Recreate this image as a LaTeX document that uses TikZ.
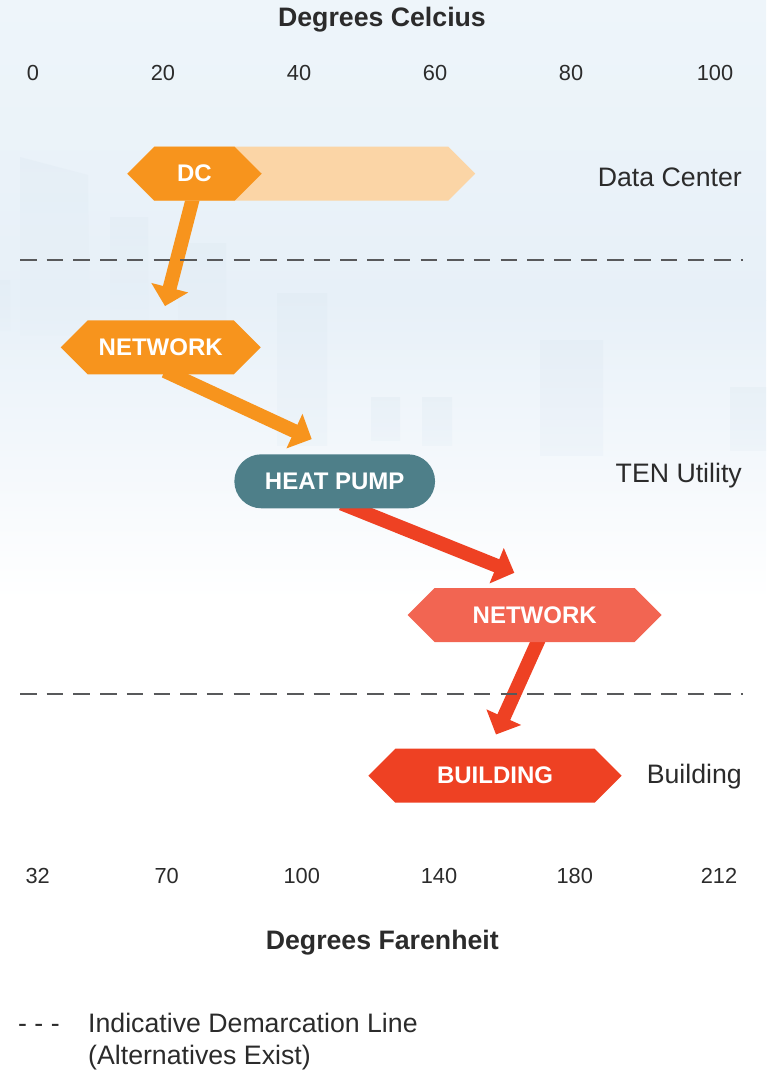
\documentclass[tikz,border=0pt]{standalone}
\usepackage{fontspec}
\setmainfont{Liberation Sans}
\usetikzlibrary{arrows.meta,shapes.symbols,positioning}

\definecolor{dcorange}{HTML}{F7941D}
\definecolor{dclight}{HTML}{FBD5A6}
\definecolor{pumpteal}{HTML}{4E7F89}
\definecolor{netsalmon}{HTML}{F26552}
\definecolor{bldred}{HTML}{EE4123}
\definecolor{linegray}{HTML}{58595B}
\definecolor{textdark}{HTML}{2B2B2B}
\definecolor{skytop}{HTML}{EEF5FA}
\definecolor{skymid}{HTML}{E7F0F8}
\definecolor{skyline}{HTML}{DFEAF2}

\pgfdeclarelayer{backdrop}
\pgfdeclarelayer{flows}
\pgfsetlayers{backdrop,flows,main}

\tikzset{
  hexnode/.style={shape=signal, signal to=east and west, signal pointer angle=90,
    minimum height=54pt, inner sep=0pt, text=white,
    font=\fontsize{24}{28}\selectfont\bfseries},
  pumpnode/.style={rectangle, rounded corners=27pt, minimum height=54pt,
    inner sep=0pt, text=white, font=\fontsize{24}{28}\selectfont\bfseries},
  flowarrow/.style={line width=14pt, -{Triangle[length=19pt,width=37pt]}},
  demarc/.style={draw=linegray, line width=2.3pt, dash pattern=on 16.5pt off 10.2pt},
  axistitle/.style={text=textdark, font=\fontsize{26.7}{31}\selectfont\bfseries},
  ticklabel/.style={text=textdark, font=\fontsize{21.8}{26}\selectfont},
  rowlabel/.style={text=textdark, inner sep=0pt, font=\fontsize{26.7}{31}\selectfont},
  tower/.style={top color=skyline, bottom color=skymid, opacity=.4}
}

\begin{document}
\begin{tikzpicture}[x=1pt,y=-1pt]
	\useasboundingbox (0,0) rectangle (766,1071);

	% Sky backdrop with faint skyline
	\begin{pgfonlayer}{backdrop}
		\shade[top color=skytop, bottom color=skymid] (0,0) rectangle (766,300);
		\shade[top color=skymid, bottom color=white] (0,300) rectangle (766,600);
		\shade[tower] (20,157) -- (88,175) -- (90,335) -- (20,335) -- cycle;
		\foreach \xa/\ya/\xb/\yb in {0/280/10/330, 110/217/148/330, 178/243/226/370,
			277/293/327/445, 371/397/400/440, 422/397/452/445, 540/340/603/455, 730/387/766/450}
			\shade[tower] (\xa,\ya) rectangle (\xb,\yb);
	\end{pgfonlayer}

	% Celcius scale
	\node[axistitle, anchor=base] (ctitle) at (382,26.7) {Degrees Celcius};
	\foreach \x/\t in {33/0, 163/20, 299/40, 435/60, 571/80, 715/100}
		\node[ticklabel, anchor=base] at (\x,80.7) {\t};

	% Demarcation lines
	\draw[demarc] (20,260) -- (743,260);
	\draw[demarc] (20,694) -- (743,694);

	% Stages
	\node[hexnode, fill=dclight, minimum width=348pt] (dcrange) at (301.2,173.7) {};
	\node[hexnode, fill=dcorange, minimum width=134.4pt] (dc) at (194.5,173.7) {DC};
	\node[hexnode, fill=dcorange, minimum width=200pt] (nw1) at (160.7,347.3) {NETWORK};
	\node[pumpnode, fill=pumpteal, minimum width=200.7pt] (hp) at (334.7,481.3) {HEAT PUMP};
	\node[hexnode, fill=netsalmon, minimum width=254pt] (nw2) at (534.7,615) {NETWORK};
	\node[hexnode, fill=bldred, minimum width=253.4pt] (bld) at (495,775.7) {BUILDING};

	% Row labels
	\node[rowlabel, anchor=base east] (dclabel) at (742,186.7) {Data Center};
	\node[rowlabel, anchor=base east] (tenlabel) at (742,482.7) {TEN Utility};
	\node[rowlabel, anchor=base east] (bldlabel) at (742,783) {Building};

	% Heat flow arrows
	\begin{pgfonlayer}{flows}
		\draw[flowarrow, draw=dcorange, fill=dcorange] ([shift={(0,-9)}]dc.south) -- ([shift={(4.3,-14)}]nw1.north);
		\draw[flowarrow, draw=dcorange, fill=dcorange] ([shift={(4,-3.5)}]nw1.south) -- ([shift={(-23,-15)}]hp.north);
		\draw[flowarrow, draw=bldred, fill=bldred] ([shift={(7,-5)}]hp.south) -- ([shift={(-20.4,-15)}]nw2.north);
		\draw[flowarrow, draw=bldred, fill=bldred] ([shift={(6,-7)}]nw2.south) -- ([shift={(1,-14)}]bld.north);
	\end{pgfonlayer}

	% Farenheit scale
	\foreach \x/\t in {37.7/32, 166.7/70, 301.7/100, 439/140, 574.7/180, 719/212}
		\node[ticklabel, anchor=base] at (\x,883) {\t};
	\node[axistitle, anchor=base] (ftitle) at (382.3,949) {Degrees Farenheit};

	% Legend
	\node[rowlabel, anchor=base west] (legkey) at (18,1032.7) {- - -};
	\node[rowlabel, anchor=base west] (legtxt) at (88,1032.7) {Indicative Demarcation Line};
	\node[rowlabel, anchor=base west] (legnote) at (88,1064) {(Alternatives Exist)};
\end{tikzpicture}
\end{document}
